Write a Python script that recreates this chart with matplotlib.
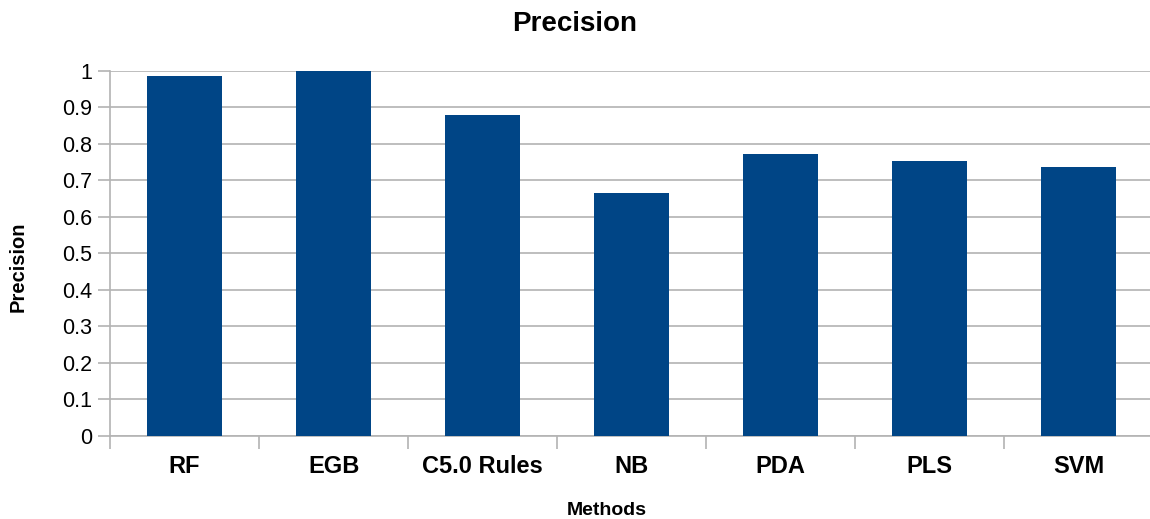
import matplotlib.pyplot as plt
import numpy as np

methods = ["RF", "EGB", "C5.0 Rules", "NB", "PDA", "PLS", "SVM"]
precision = [0.985, 1.0, 0.878, 0.664, 0.771, 0.753, 0.735]
yticks = [0, 0.1, 0.2, 0.3, 0.4, 0.5, 0.6, 0.7, 0.8, 0.9, 1]
ytick_labels = ["0", "0.1", "0.2", "0.3", "0.4", "0.5", "0.6", "0.7", "0.8", "0.9", "1"]

plt.rcParams['font.family'] = ['Liberation Sans', 'DejaVu Sans']

fig = plt.figure(figsize=(11.5, 5.19), dpi=100)
# plot area runs slightly past the right edge, like the original
ax = fig.add_axes([0.0957, 0.1605, 0.907, 0.7033])

x = np.arange(len(methods))
ax.bar(x, precision, width=0.5, color="#004586", zorder=3)

ax.set_xlim(-0.5, len(methods) - 0.5)
ax.set_ylim(0, 1)
ax.set_yticks(yticks)
ax.set_yticklabels(ytick_labels, fontsize=15.5)
ax.yaxis.grid(True, color="#b3b3b3", linewidth=1.2, zorder=0)

# category labels centred, ticks on the boundaries
ax.set_xticks(x)
ax.set_xticklabels(methods, fontsize=17, fontweight="bold")
ax.tick_params(axis="x", length=0, pad=14)
ax.set_xticks(np.arange(-0.5, len(methods)), minor=True)
ax.tick_params(axis="x", which="minor", length=9, color="#b3b3b3", width=1.2)
ax.tick_params(axis="y", length=9, color="#b3b3b3", width=1.2, pad=4)

for s in ["top", "right"]:
    ax.spines[s].set_visible(False)
for s in ["left", "bottom"]:
    ax.spines[s].set_color("#b3b3b3")
    ax.spines[s].set_linewidth(1.2)

fig.text(0.5, 1 - 31 / 519, "Precision", fontsize=20, fontweight="bold",
         ha="center", va="baseline")
fig.text(607 / 1150, 1 - 515 / 519, "Methods", fontsize=14, fontweight="bold",
         ha="center", va="baseline")
fig.text(18 / 1150, 1 - 267 / 519, "Precision", fontsize=14.5, fontweight="bold",
         ha="center", va="center", rotation=90)

fig.savefig("out.png", dpi=100)
